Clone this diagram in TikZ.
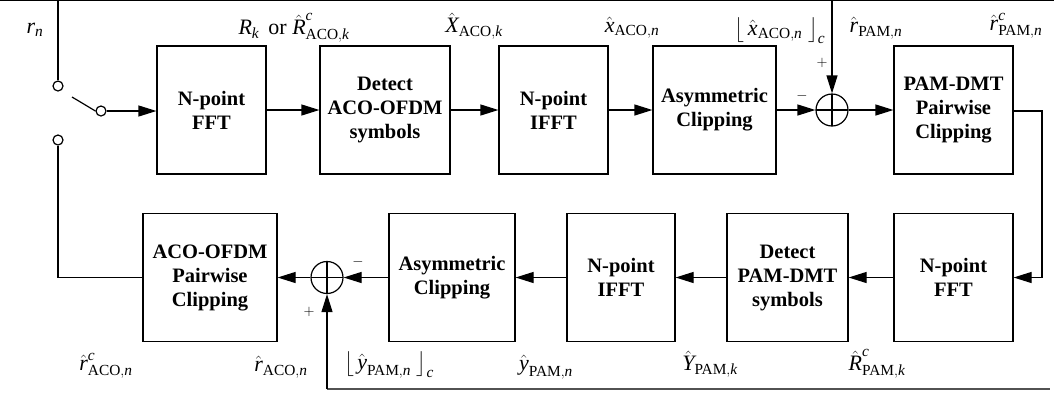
\documentclass[tikz,border=0pt]{standalone}
\usepackage{amsmath}
\usepackage{fontspec}
\setmainfont{Liberation Serif}
\usetikzlibrary{arrows.meta}
\newcommand{\iv}[1]{\text{\itshape #1}}
\tikzset{
  blk/.style={draw, line width=1.2pt, font=\bfseries\fontsize{20.5}{24}\selectfont, align=center, inner sep=0pt, minimum height=128pt},
  sumc/.style={circle, draw, line width=1.2pt, minimum size=32pt, inner sep=0pt,
    path picture={\draw[line width=1.2pt] (path picture bounding box.north) -- (path picture bounding box.south)
      (path picture bounding box.west) -- (path picture bounding box.east);}},
  swc/.style={circle, draw, line width=1.2pt, minimum size=10pt, inner sep=0pt},
  wire/.style={line width=1.2pt},
  arr/.style={line width=1.2pt, -{Triangle[length=18pt,width=11pt]}},
  lbl/.style={font=\fontsize{22}{26}\selectfont, inner sep=0pt},
  sgn/.style={font=\fontsize{15}{18}\selectfont, inner sep=0pt}
}
\begin{document}
\begin{tikzpicture}[x=1pt,y=-1pt]
\useasboundingbox (0,0) rectangle (1054,392);
% top row
\node[blk, minimum width=109pt] (fft1) at (211.5,110) {N-point\\FFT};
\node[blk, minimum width=130pt] (det1) at (385,110) {Detect\\ACO-OFDM\\symbols};
\node[blk, minimum width=109pt] (ifft1) at (553.5,110) {N-point\\IFFT};
\node[blk, minimum width=123pt] (clip1) at (714.5,110) {Asymmetric\\Clipping};
\node[sumc] (sum1) at (832,110) {};
\node[blk, minimum width=119pt] (pair1) at (953.5,110) {PAM-DMT\\Pairwise\\Clipping};
% bottom row
\node[blk, minimum width=134pt] (pair2) at (210,277.5) {ACO-OFDM\\Pairwise\\Clipping};
\node[sumc] (sum2) at (327,277.5) {};
\node[blk, minimum width=126pt] (clip2) at (452,277.5) {Asymmetric\\Clipping};
\node[blk, minimum width=108pt] (ifft2) at (621,277.5) {N-point\\IFFT};
\node[blk, minimum width=121pt] (det2) at (787.5,277.5) {Detect\\PAM-DMT\\symbols};
\node[blk, minimum width=119pt] (fft2) at (953.5,277.5) {N-point\\FFT};
% switch
\node[swc] (swa) at (58,86) {};
\node[swc] (swb) at (58,140) {};
\node[swc] (swo) at (101,111) {};
\coordinate (lev) at (72,97);
\coordinate (topl) at (0,0.7);
\coordinate (topr) at (1054,0.7);
\coordinate (topa) at (58,0.7);
\coordinate (topb) at (832,0.7);
\coordinate (botr) at (1050,389);
\coordinate (botl) at (327,389);
\coordinate (rt) at (1042,111);
\coordinate (rb) at (1042,277.5);
\coordinate (lb) at (58,277.5);
% wires
\draw[wire] (topl) -- (topr);
\draw[line width=2.6pt, black!68] (botl) -- (botr);
\draw[wire] (topa) -- (swa.north);
\draw[wire] (lev) -- (swo.west);
\draw[arr] (swo.east) -- (fft1.west |- swo.east);
\draw[arr] (fft1) -- (det1);
\draw[arr] (det1) -- (ifft1);
\draw[arr] (ifft1) -- (clip1);
\draw[arr] (clip1) -- (sum1.west);
\draw[arr] (topb) -- (sum1.north);
\draw[arr] (sum1.east) -- (pair1.west);
\draw[wire] (pair1.east |- rt) -- (rt) -- (rb);
\draw[arr] (rb) -- (fft2.east);
\draw[arr] (fft2) -- (det2);
\draw[arr] (det2) -- (ifft2);
\draw[arr] (ifft2) -- (clip2);
\draw[arr] (clip2) -- (sum2.east);
\draw[arr] (sum2.west) -- (pair2.east);
\draw[arr] (botl) -- (sum2.south);
\draw[wire] (swb.south) -- (lb) -- (pair2.west);
% labels
\node[lbl] (l1) at (35,30) {$\iv{r}_{\iv{n}}$};
\node[lbl] (l2) at (294,28) {$\iv{R}_{\iv{k}}$\, or $\hat{\iv{R}}^{\iv{c}}_{\text{ACO},\iv{k}}$};
\node[lbl] (l3) at (474,26) {$\hat{\iv{X}}_{\text{ACO},\iv{k}}$};
\node[lbl] (l4) at (632,28) {$\hat{\iv{x}}_{\text{ACO},\iv{n}}$};
\node[lbl] (l5) at (780,31) {$\bigl\lfloor\, \hat{\iv{x}}_{\text{ACO},\iv{n}}\; \bigr\rfloor_{\iv{c}}$};
\node[lbl] (l6) at (876,28) {$\hat{\iv{r}}_{\text{PAM},\iv{n}}$};
\node[lbl] (l7) at (1016,26) {$\hat{\iv{r}}^{\iv{c}}_{\text{PAM},\iv{n}}$};
\node[sgn] (p1) at (822,63) {$+$};
\node[sgn] (m1) at (802,96) {$-$};
\node[lbl] (b1) at (106,366) {$\hat{\iv{r}}^{\iv{c}}_{\text{ACO},\iv{n}}$};
\node[lbl] (b2) at (281,367) {$\hat{\iv{r}}_{\text{ACO},\iv{n}}$};
\node[sgn] (p2) at (309,312) {$+$};
\node[sgn] (m2) at (358,262) {$-$};
\node[lbl] (b3) at (389,365) {$\bigl\lfloor\, \hat{\iv{y}}_{\text{PAM},\iv{n}}\; \bigr\rfloor_{\iv{c}}$};
\node[lbl] (b4) at (546,367) {$\hat{\iv{y}}_{\text{PAM},\iv{n}}$};
\node[lbl] (b5) at (710,364) {$\hat{\iv{Y}}_{\text{PAM},\iv{k}}$};
\node[lbl] (b6) at (877,364) {$\hat{\iv{R}}^{\iv{c}}_{\text{PAM},\iv{k}}$};
\end{tikzpicture}
\end{document}
